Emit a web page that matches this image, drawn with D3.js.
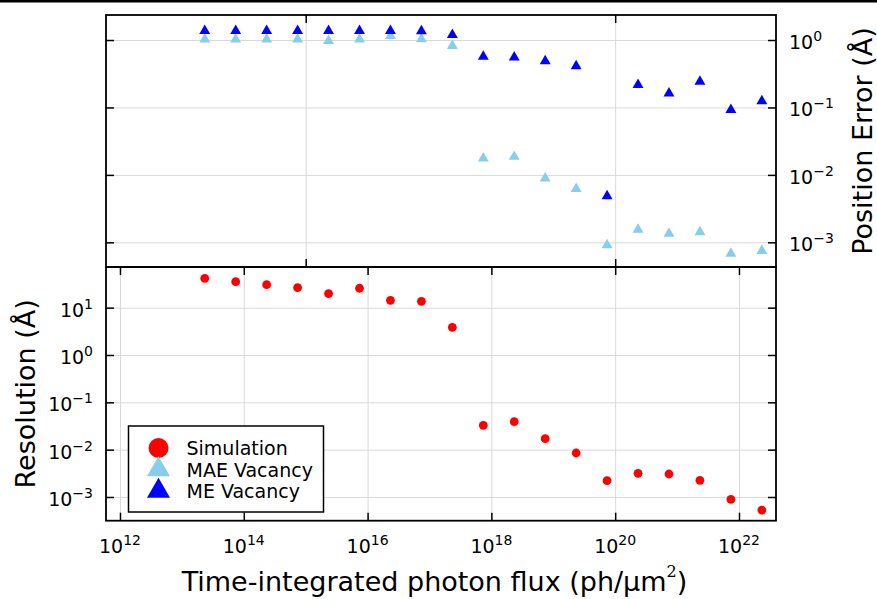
<!DOCTYPE html>
<html>
<head>
<meta charset="utf-8">
<script src="https://cdn.jsdelivr.net/npm/d3@7"></script>
<style>
  body { margin: 0; background: #fff; }
  svg { display: block; font-family: "DejaVu Sans", sans-serif; }
</style>
</head>
<body>
<div class="vis"></div>
<script>
// photon flux (ph/um^2), one point every half decade
const flux = [2.34e13, 7.4e13, 2.34e14, 7.4e14, 2.34e15, 7.4e15, 2.34e16, 7.4e16,
    2.34e17, 7.4e17, 2.34e18, 7.4e18, 2.34e19, 7.4e19, 2.34e20, 7.4e20, 2.34e21, 7.4e21, 2.34e22];

// resolution (A)
const simulation = [41.7, 35.4, 30.6, 26.4, 19.7, 25.7, 14.3, 13.6, 3.85,
    0.0327, 0.039, 0.0171, 0.0085, 0.00221, 0.00316, 0.00306, 0.00225, 0.00089, 0.00053];

// position error (A)
const maeVacancy = [1.02, 1.02, 1.02, 1.02, 0.976, 1.02, 1.15, 1.03, 0.82,
    0.0176, 0.0186, 0.0089, 0.0062, 0.00091, 0.00155, 0.00135, 0.00142, 0.00068, 0.00075];
const meVacancy = [1.37, 1.37, 1.37, 1.37, 1.37, 1.37, 1.37, 1.36, 1.19,
    0.566, 0.553, 0.489, 0.411, 0.00485, 0.217, 0.162, 0.241, 0.0925, 0.124];

const xTicks = [1e12, 1e14, 1e16, 1e18, 1e20, 1e22],
    topXTicks = [1e15, 1e20],
    topYTicks = [1, 1e-1, 1e-2, 1e-3],
    botYTicks = [1e1, 1e0, 1e-1, 1e-2, 1e-3];

const legendNames = ["Simulation", "MAE Vacancy", "ME Vacancy"],
    legendColors = ["#ff0000", "#87ceeb", "#0000ff"];

const width = 877, height = 599;
const left = 106, right = 776,
    topPanel = {top: 15, bottom: 267},
    botPanel = {top: 267, bottom: 520.7};

let svg = d3.select(".vis").append("svg")
    .attr("width", width)
    .attr("height", height);

// dark strip across the very top
svg.append("rect").attr("x", 0).attr("y", 0).attr("width", width).attr("height", 2.5).style("fill", "#000");

const x = d3.scaleLog().domain([Math.pow(10, 11.774), Math.pow(10, 22.598)]).range([left, right]);
const yTop = d3.scaleLog().domain([Math.pow(10, -3.366), Math.pow(10, 0.371)]).range([topPanel.bottom, topPanel.top]);
const yBot = d3.scaleLog().domain([Math.pow(10, -3.501), Math.pow(10, 1.859)]).range([botPanel.bottom, botPanel.top]);

function expLabel(sel, v) {
    const e = Math.round(Math.log10(v));
    sel.text(null);
    sel.append("tspan").text("10");
    sel.append("tspan").attr("dy", -8).style("font-size", "14px")
        .text(e < 0 ? "\u2212" + (-e) : String(e));
}

// grids
function grid(g) {
    g.selectAll(".domain").remove();
    g.selectAll("line").style("stroke", "#d9d9d9").style("stroke-width", 1);
    g.selectAll("text").remove();
}
svg.append("g").attr("transform", "translate(0," + topPanel.bottom + ")")
    .call(d3.axisBottom(x).tickValues(topXTicks).tickSize(-(topPanel.bottom - topPanel.top))).call(grid);
svg.append("g").attr("transform", "translate(" + left + ",0)")
    .call(d3.axisLeft(yTop).tickValues(topYTicks).tickSize(-(right - left))).call(grid);
svg.append("g").attr("transform", "translate(0," + botPanel.bottom + ")")
    .call(d3.axisBottom(x).tickValues(xTicks).tickSize(-(botPanel.bottom - botPanel.top))).call(grid);
svg.append("g").attr("transform", "translate(" + left + ",0)")
    .call(d3.axisLeft(yBot).tickValues(botYTicks).tickSize(-(right - left))).call(grid);

// markers
const tri = d3.symbol().type(d3.symbolTriangle).size(52);

svg.append("g").selectAll("path.mae")
    .data(flux.map((f, i) => [f, maeVacancy[i]]))
    .join("path")
    .attr("transform", d => "translate(" + x(d[0]) + "," + yTop(d[1]) + ")")
    .attr("d", tri)
    .style("fill", legendColors[1]);

svg.append("g").selectAll("path.me")
    .data(flux.map((f, i) => [f, meVacancy[i]]))
    .join("path")
    .attr("transform", d => "translate(" + x(d[0]) + "," + yTop(d[1]) + ")")
    .attr("d", tri)
    .style("fill", legendColors[2]);

svg.append("g").selectAll("circle")
    .data(flux.map((f, i) => [f, simulation[i]]))
    .join("circle")
    .attr("cx", d => x(d[0]))
    .attr("cy", d => yBot(d[1]))
    .attr("r", 4.4)
    .style("fill", legendColors[0]);

// ticks (inward, mirrored)
function ticks(g) {
    g.selectAll(".domain").remove();
    g.selectAll("line").style("stroke", "#000").style("stroke-width", 1.5);
    g.selectAll("text").remove();
}
const tl = 8;
svg.append("g").attr("transform", "translate(0," + topPanel.top + ")")
    .call(d3.axisTop(x).tickValues(topXTicks).tickSize(-tl)).call(ticks);
svg.append("g").attr("transform", "translate(0," + topPanel.bottom + ")")
    .call(d3.axisBottom(x).tickValues(topXTicks).tickSize(-tl)).call(ticks);
svg.append("g").attr("transform", "translate(" + left + ",0)")
    .call(d3.axisLeft(yTop).tickValues(topYTicks).tickSize(-tl)).call(ticks);
svg.append("g").attr("transform", "translate(" + right + ",0)")
    .call(d3.axisRight(yTop).tickValues(topYTicks).tickSize(-tl)).call(ticks);

svg.append("g").attr("transform", "translate(0," + botPanel.top + ")")
    .call(d3.axisTop(x).tickValues(xTicks).tickSize(-tl)).call(ticks);
svg.append("g").attr("transform", "translate(0," + botPanel.bottom + ")")
    .call(d3.axisBottom(x).tickValues(xTicks).tickSize(-tl)).call(ticks);
svg.append("g").attr("transform", "translate(" + left + ",0)")
    .call(d3.axisLeft(yBot).tickValues(botYTicks).tickSize(-tl)).call(ticks);
svg.append("g").attr("transform", "translate(" + right + ",0)")
    .call(d3.axisRight(yBot).tickValues(botYTicks).tickSize(-tl)).call(ticks);

// frames
[topPanel, botPanel].forEach(p => {
    svg.append("rect")
        .attr("x", left).attr("y", p.top)
        .attr("width", right - left).attr("height", p.bottom - p.top)
        .style("fill", "none").style("stroke", "#000").style("stroke-width", 1.8);
});

// tick labels
svg.append("g").selectAll("text")
    .data(xTicks).join("text")
    .attr("x", d => x(d)).attr("y", 553)
    .style("font-size", "19px").style("text-anchor", "middle").style("fill", "#000")
    .each(function(d) { expLabel(d3.select(this), d); });

svg.append("g").selectAll("text")
    .data(topYTicks).join("text")
    .attr("x", 789).attr("y", d => yTop(d) + 9)
    .style("font-size", "19px").style("text-anchor", "start").style("fill", "#000")
    .each(function(d) { expLabel(d3.select(this), d); });

svg.append("g").selectAll("text")
    .data(botYTicks).join("text")
    .attr("x", 93).attr("y", d => yBot(d) + 9)
    .style("font-size", "19px").style("text-anchor", "end").style("fill", "#000")
    .each(function(d) { expLabel(d3.select(this), d); });

// axis titles
let xTitle = svg.append("text")
    .attr("x", (182 + 687) / 2).attr("y", 591)
    .style("font-size", "27px").style("text-anchor", "middle").style("fill", "#000");
xTitle.append("tspan").text("Time-integrated photon flux (ph/\u00b5m");
xTitle.append("tspan").attr("dy", -14).style("font-size", "16px").style("font-family", "DejaVu Serif, serif").text("2");
xTitle.append("tspan").attr("dy", 14).text(")");

svg.append("text")
    .attr("transform", "translate(35," + (botPanel.top + botPanel.bottom) / 2 + ") rotate(-90)")
    .style("font-size", "27px").style("text-anchor", "middle").style("fill", "#000")
    .text("Resolution (\u00c5)");

svg.append("text")
    .attr("transform", "translate(872," + (topPanel.top + topPanel.bottom) / 2 + ") rotate(-90)")
    .style("font-size", "27px").style("text-anchor", "middle").style("fill", "#000")
    .text("Position Error (\u00c5)");

// legend
let legend = svg.append("g").attr("transform", "translate(128.5,426)");
legend.append("rect")
    .attr("width", 195).attr("height", 86)
    .style("fill", "#fff").style("stroke", "#000").style("stroke-width", 1.5);

const legY = d3.scalePoint().domain(legendNames).range([22, 65]);
legendNames.forEach((name, i) => {
    if (i === 0) {
        legend.append("circle").attr("cx", 30).attr("cy", legY(name)).attr("r", 10)
            .style("fill", legendColors[i]);
    } else {
        legend.append("path")
            .attr("transform", "translate(30," + legY(name) + ")")
            .attr("d", d3.symbol().type(d3.symbolTriangle).size(230))
            .style("fill", legendColors[i]);
    }
    legend.append("text")
        .attr("x", 58).attr("y", legY(name) + 7)
        .style("font-size", "19px").style("fill", "#000")
        .text(name);
});
</script>
</body>
</html>
